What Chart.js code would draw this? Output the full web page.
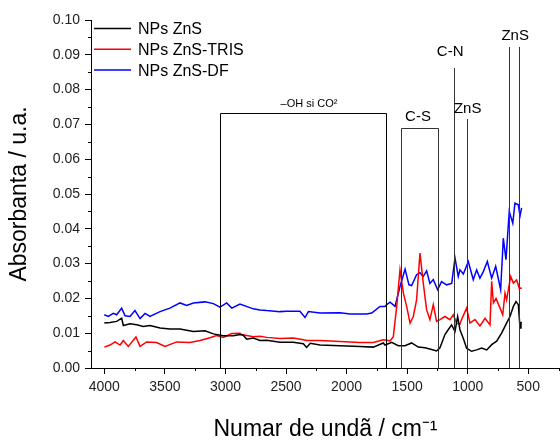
<!DOCTYPE html>
<html>
<head>
<meta charset="utf-8">
<script src="https://cdn.jsdelivr.net/npm/chart.js@4.4.1/dist/chart.umd.min.js"></script>
<style>
  body { margin: 0; background: #fff; }
  canvas { display: block; }
</style>
</head>
<body>
<canvas id="myChart" width="560" height="441"></canvas>
<script>
// FTIR spectra, wavenumber (cm-1) vs absorbance
var seriesNames = ['NPs ZnS', 'NPs ZnS-TRIS', 'NPs ZnS-DF'];

var wnZnS = [4000, 3953, 3898, 3857, 3843, 3788, 3733, 3678, 3623, 3540, 3458, 3375, 3265, 3169, 3100, 3018, 2935, 2880, 2853, 2825, 2770, 2715, 2659, 2550, 2440, 2357, 2330, 2300, 2219, 2054, 1889, 1779, 1697, 1683, 1641, 1628, 1573, 1518, 1463, 1408, 1353, 1298, 1257, 1229, 1188, 1161, 1133, 1105, 1083, 1064, 1036, 1009, 968, 926, 885, 843, 802, 761, 720, 679, 651, 623, 601, 582, 568, 560, 555];
var absZnS = [0.0129, 0.0131, 0.0134, 0.0143, 0.0122, 0.0127, 0.0124, 0.0119, 0.0122, 0.0115, 0.0112, 0.0112, 0.0105, 0.0107, 0.0098, 0.0093, 0.0093, 0.0096, 0.0094, 0.0083, 0.0086, 0.0079, 0.0080, 0.0074, 0.0074, 0.0070, 0.0059, 0.0071, 0.0066, 0.0064, 0.0062, 0.0060, 0.0072, 0.0066, 0.0072, 0.0074, 0.0064, 0.0064, 0.0072, 0.0060, 0.0058, 0.0053, 0.0049, 0.0058, 0.0096, 0.0110, 0.0124, 0.0105, 0.0148, 0.0110, 0.0085, 0.0057, 0.0048, 0.0052, 0.0057, 0.0052, 0.0067, 0.0077, 0.0100, 0.0129, 0.0148, 0.0177, 0.0191, 0.0182, 0.0115, 0.0130, 0.0132];

var wnTris = [4000, 3953, 3912, 3870, 3843, 3802, 3739, 3705, 3650, 3568, 3499, 3403, 3293, 3210, 3128, 3073, 3018, 2948, 2880, 2866, 2770, 2715, 2659, 2550, 2440, 2357, 2330, 2219, 2054, 1889, 1779, 1697, 1641, 1614, 1586, 1559, 1531, 1504, 1476, 1449, 1422, 1394, 1367, 1339, 1312, 1284, 1257, 1229, 1188, 1147, 1119, 1092, 1064, 1051, 1009, 981, 940, 899, 857, 816, 802, 788, 766, 739, 711, 692, 679, 645, 623, 596, 574, 560, 555];
var absTris = [0.0060, 0.0066, 0.0075, 0.0066, 0.0079, 0.0062, 0.0089, 0.0062, 0.0075, 0.0073, 0.0062, 0.0075, 0.0073, 0.0079, 0.0087, 0.0093, 0.0088, 0.0099, 0.0100, 0.0096, 0.0090, 0.0091, 0.0088, 0.0085, 0.0086, 0.0081, 0.0079, 0.0079, 0.0076, 0.0073, 0.0073, 0.0081, 0.0078, 0.0090, 0.0177, 0.0282, 0.0215, 0.0177, 0.0129, 0.0148, 0.0196, 0.0330, 0.0244, 0.0167, 0.0139, 0.0182, 0.0134, 0.0139, 0.0148, 0.0139, 0.0153, 0.0129, 0.0126, 0.0139, 0.0172, 0.0129, 0.0139, 0.0121, 0.0143, 0.0124, 0.0249, 0.0187, 0.0200, 0.0177, 0.0153, 0.0215, 0.0196, 0.0263, 0.0244, 0.0253, 0.0229, 0.0230, 0.0228];

var wnDF = [4000, 3967, 3926, 3898, 3857, 3829, 3788, 3747, 3705, 3664, 3623, 3540, 3458, 3375, 3320, 3265, 3169, 3100, 3045, 2990, 2948, 2880, 2770, 2715, 2659, 2550, 2494, 2385, 2343, 2315, 2219, 2054, 1971, 1834, 1793, 1724, 1683, 1669, 1641, 1600, 1559, 1517, 1485, 1463, 1422, 1394, 1367, 1339, 1312, 1284, 1248, 1216, 1175, 1132, 1105, 1078, 1064, 1036, 995, 954, 926, 899, 871, 838, 802, 769, 728, 706, 684, 657, 628, 610, 582, 568, 555];
var absDF = [0.0153, 0.0148, 0.0157, 0.0153, 0.0172, 0.0150, 0.0148, 0.0165, 0.0142, 0.0157, 0.0148, 0.0162, 0.0172, 0.0187, 0.0180, 0.0187, 0.0190, 0.0185, 0.0175, 0.0187, 0.0172, 0.0184, 0.0170, 0.0167, 0.0165, 0.0162, 0.0163, 0.0163, 0.0145, 0.0162, 0.0158, 0.0159, 0.0155, 0.0155, 0.0158, 0.0177, 0.0177, 0.0182, 0.0189, 0.0177, 0.0234, 0.0284, 0.0239, 0.0237, 0.0268, 0.0274, 0.0263, 0.0279, 0.0243, 0.0254, 0.0225, 0.0248, 0.0239, 0.0243, 0.0316, 0.0263, 0.0282, 0.0270, 0.0306, 0.0254, 0.0282, 0.0258, 0.0277, 0.0306, 0.0258, 0.0292, 0.0225, 0.0373, 0.0311, 0.0450, 0.0416, 0.0474, 0.0469, 0.0437, 0.0460];

var xTicks = [4000, 3500, 3000, 2500, 2000, 1500, 1000, 500];
var xMinor = [3750, 3250, 2750, 2250, 1750, 1250, 750, 250];
var yTicks = [0, 0.01, 0.02, 0.03, 0.04, 0.05, 0.06, 0.07, 0.08, 0.09, 0.10];
var yMinor = [0.005, 0.015, 0.025, 0.035, 0.045, 0.055, 0.065, 0.075, 0.085, 0.095];

// band boxes: left/right wavenumber, top absorbance
var boxLabels = ['\u2013OH si CO\u00b2', 'C-S'];
var boxFrom = [3045, 1551];
var boxTo = [1675, 1248];
var boxTop = [0.0734, 0.0690];
var boxLabelX = [2310, 1410];
var boxLabelY = [0.0750, 0.0710];

// single band lines
var lineLabels = ['C-N', 'ZnS', 'ZnS', ''];
var lineAt = [1116, 1008, 657, 574];
var lineTop = [0.0861, 0.0716, 0.0922, 0.0922];
var lineLabelX = [1145, 1000, 608, 0];
var lineLabelY = [0.0897, 0.0733, 0.0943, 0];

var colors = ['#000000', '#ff0000', '#0000ff'];
var FONT = '"Liberation Sans", Arial, sans-serif';

function pts(xs, ys) {
    return xs.map(function (x, i) { return { x: x, y: ys[i] }; });
}

var extras = {
    id: 'extras',
    afterDatasetsDraw: function (chart) {
        var c = chart.ctx, sx = chart.scales.x, sy = chart.scales.y;
        var base = sy.getPixelForValue(0);
        c.save();
        c.lineWidth = 1;
        for (var i = 0; i < boxFrom.length; i++) {
            var x1 = Math.round(sx.getPixelForValue(boxFrom[i])) + 0.5;
            var x2 = Math.round(sx.getPixelForValue(boxTo[i])) + 0.5;
            var yt = Math.round(sy.getPixelForValue(boxTop[i])) + 0.5;
            c.strokeStyle = i == 0 ? '#000' : '#333';
            c.beginPath();
            c.moveTo(x1, base); c.lineTo(x1, yt); c.lineTo(x2, yt); c.lineTo(x2, base);
            c.stroke();
        }
        for (var j = 0; j < lineAt.length; j++) {
            var lx = Math.round(sx.getPixelForValue(lineAt[j])) + 0.5;
            c.strokeStyle = '#333';
            c.beginPath();
            c.moveTo(lx, base);
            c.lineTo(lx, Math.round(sy.getPixelForValue(lineTop[j])));
            c.stroke();
        }
        c.fillStyle = '#000';
        c.textAlign = 'center';
        c.textBaseline = 'alphabetic';
        for (var k = 0; k < boxLabels.length; k++) {
            c.font = (k == 0 ? '11px ' : '15px ') + FONT;
            c.fillText(boxLabels[k], sx.getPixelForValue(boxLabelX[k]), sy.getPixelForValue(boxLabelY[k]));
        }
        c.font = '15px ' + FONT;
        for (var m = 0; m < lineLabels.length; m++) {
            if (!lineLabels[m]) continue;
            c.fillText(lineLabels[m], sx.getPixelForValue(lineLabelX[m]), sy.getPixelForValue(lineLabelY[m]));
        }
        c.restore();
    },
    afterDraw: function (chart) {
        var c = chart.ctx, sx = chart.scales.x, sy = chart.scales.y, a = chart.chartArea;
        c.save();
        // minor ticks
        c.strokeStyle = '#000';
        c.lineWidth = 1;
        c.beginPath();
        xMinor.forEach(function (v) {
            var px = Math.round(sx.getPixelForValue(v)) + 0.5;
            if (px < a.left || px > a.right + 1) return;
            c.moveTo(px, a.bottom); c.lineTo(px, a.bottom + 3);
        });
        yMinor.forEach(function (v) {
            var py = Math.round(sy.getPixelForValue(v)) + 0.5;
            c.moveTo(a.left, py); c.lineTo(a.left - 3, py);
        });
        c.stroke();
        // legend
        c.font = '16px ' + FONT;
        c.textAlign = 'left';
        c.textBaseline = 'alphabetic';
        chart.data.datasets.forEach(function (ds, i) {
            var y = a.top + 8.5 + i * 20.8;
            c.strokeStyle = ds.borderColor;
            c.lineWidth = 1.5;
            c.beginPath();
            c.moveTo(a.left + 3, y); c.lineTo(a.left + 40, y);
            c.stroke();
            c.fillStyle = '#000';
            c.fillText(ds.label, a.left + 47, y + 5.7);
        });
        c.restore();
    }
};

var ctx = document.getElementById('myChart').getContext('2d');
var chart = new Chart(ctx, {
    type: 'line',
    data: {
        datasets: [
            { label: seriesNames[0], data: pts(wnZnS, absZnS), borderColor: colors[0] },
            { label: seriesNames[1], data: pts(wnTris, absTris), borderColor: colors[1] },
            { label: seriesNames[2], data: pts(wnDF, absDF), borderColor: colors[2] }
        ]
    },
    options: {
        responsive: false,
        animation: false,
        events: [],
        elements: {
            line: { borderWidth: 1.5, tension: 0, fill: false },
            point: { radius: 0 }
        },
        layout: { padding: { top: 20, left: 0, right: 0, bottom: 0 } },
        plugins: { legend: { display: false }, tooltip: { enabled: false } },
        scales: {
            x: {
                type: 'linear',
                reverse: true,
                min: 238,
                max: 4110,
                afterBuildTicks: function (s) { s.ticks = xTicks.map(function (v) { return { value: v }; }); },
                afterFit: function (s) { s.height = 73; },
                grid: { drawOnChartArea: false, tickLength: 6, color: '#000' },
                border: { color: '#000', width: 1 },
                ticks: {
                    autoSkip: false, maxRotation: 0, padding: 5, color: '#222',
                    font: { family: FONT, size: 14 },
                    callback: function (v) { return String(v); }
                },
                title: {
                    display: true, text: 'Numar de und\u00e3 / cm\u207b\u00b9', color: '#000',
                    font: { family: FONT, size: 23, lineHeight: 1 }, padding: { top: 0, bottom: 0 }
                }
            },
            y: {
                min: 0,
                max: 0.1,
                afterBuildTicks: function (s) { s.ticks = yTicks.map(function (v) { return { value: v }; }); },
                afterFit: function (s) { s.width = 91; },
                grid: { drawOnChartArea: false, tickLength: 6, color: '#000' },
                border: { color: '#000', width: 1 },
                ticks: {
                    padding: 5, color: '#222',
                    font: { family: FONT, size: 14 },
                    callback: function (v) { return v.toFixed(2); }
                },
                title: {
                    display: true, text: 'Absorbanta / u.a.', color: '#000',
                    font: { family: FONT, size: 23, lineHeight: 1 }, padding: { top: 8, bottom: 0 }
                }
            }
        }
    },
    plugins: [extras]
});
</script>
</body>
</html>
